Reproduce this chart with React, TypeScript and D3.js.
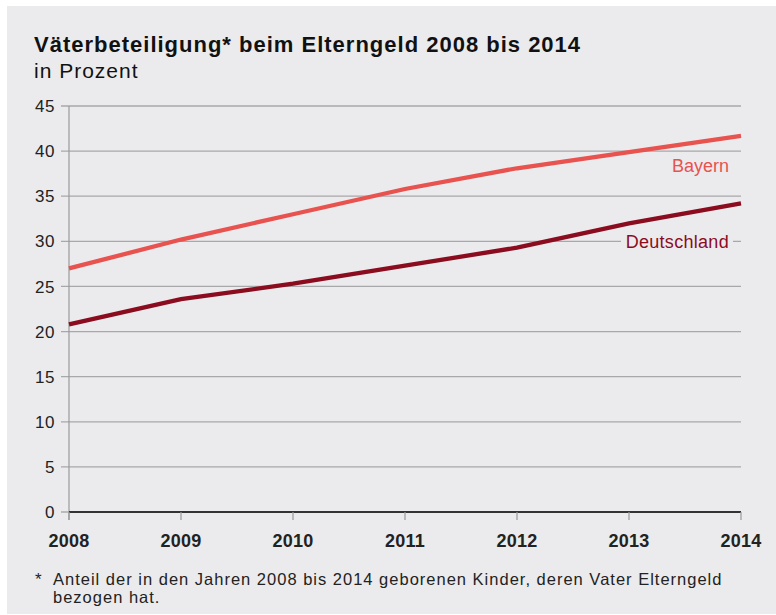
import React from 'react';
import * as d3 from 'd3';

const years = [2008, 2009, 2010, 2011, 2012, 2013, 2014];
const bayern = [27.0, 30.2, 33.0, 35.8, 38.1, 39.9, 41.7];
const deutschland = [20.8, 23.6, 25.3, 27.3, 29.3, 32.0, 34.2];
const yTicks = [0, 5, 10, 15, 20, 25, 30, 35, 40, 45];

const W = 776;
const H = 615;
const font = "'Liberation Sans', Arial, sans-serif";

const App = () => {
  // Skalen
  const x = d3.scaleLinear().domain([2008, 2014]).range([69, 741]);
  const y = d3.scaleLinear().domain([0, 45]).range([512, 106]);

  const line = d3.line<number>()
    .x((_, i) => x(years[i]))
    .y(d => y(d));

  return (
    <svg width={W} height={H} style={{ position: 'absolute', left: 0, top: 0 }}>
      <rect x={7} y={6} width={W - 7} height={608} fill="#ebebed" />

      <text x={34} y={52} fontFamily={font} fontSize={22} fontWeight="bold" letterSpacing={1} fill="#111">
        Väterbeteiligung* beim Elterngeld 2008 bis 2014
      </text>
      <text x={34} y={78} fontFamily={font} fontSize={21} letterSpacing={1} fill="#111">in Prozent</text>

      {/* Gitterlinien und Y-Achse */}
      {yTicks.map(t => (
        <g key={t}>
          {t > 0 && (
            <line x1={61} x2={741} y1={y(t)} y2={y(t)} stroke="#a8a8aa" strokeWidth={1.3} />
          )}
          <text x={55} y={y(t)} dy="0.36em" textAnchor="end" fontFamily={font} fontSize={17} letterSpacing={0.5} fill="#222">
            {t}
          </text>
        </g>
      ))}
      <line x1={69} x2={69} y1={y(45)} y2={520} stroke="#9a9a9c" strokeWidth={1.2} />

      {/* X-Achse */}
      <line x1={61} x2={69} y1={y(0)} y2={y(0)} stroke="#9a9a9c" strokeWidth={1.2} />
      <line x1={69} x2={741} y1={y(0)} y2={y(0)} stroke="#333" strokeWidth={2} />
      {years.map(yr => (
        <g key={yr}>
          <line x1={x(yr)} x2={x(yr)} y1={y(0)} y2={520} stroke="#9a9a9c" strokeWidth={1.2} />
          <text x={x(yr)} y={547} textAnchor="middle" fontFamily={font} fontSize={18} fontWeight="bold" letterSpacing={0.3} fill="#222">
            {yr}
          </text>
        </g>
      ))}

      {/* Linien */}
      <path d={line(bayern) || ''} fill="none" stroke="#e8524f" strokeWidth={4.3} />
      <path d={line(deutschland) || ''} fill="none" stroke="#8c0c1f" strokeWidth={4.3} />

      <text x={729} y={172} textAnchor="end" fontFamily={font} fontSize={18} fill="#e8524f">
        Bayern
      </text>
      <rect x={621} y={y(30) - 4} width={112} height={8} fill="#ebebed" />
      <text x={729} y={y(30)} dy="0.36em" textAnchor="end" fontFamily={font} fontSize={18} letterSpacing={0.3} fill="#8c0c1f">
        Deutschland
      </text>

      {/* Fußnote */}
      <text x={35} y={585} fontFamily={font} fontSize={17} fill="#222">*</text>
      <text fontFamily={font} fontSize={16.5} letterSpacing={1} fill="#222">
        <tspan x={53} y={585}>Anteil der in den Jahren 2008 bis 2014 geborenen Kinder, deren Vater Elterngeld</tspan>
        <tspan x={53} y={603}>bezogen hat.</tspan>
      </text>
    </svg>
  );
};

export default App;
